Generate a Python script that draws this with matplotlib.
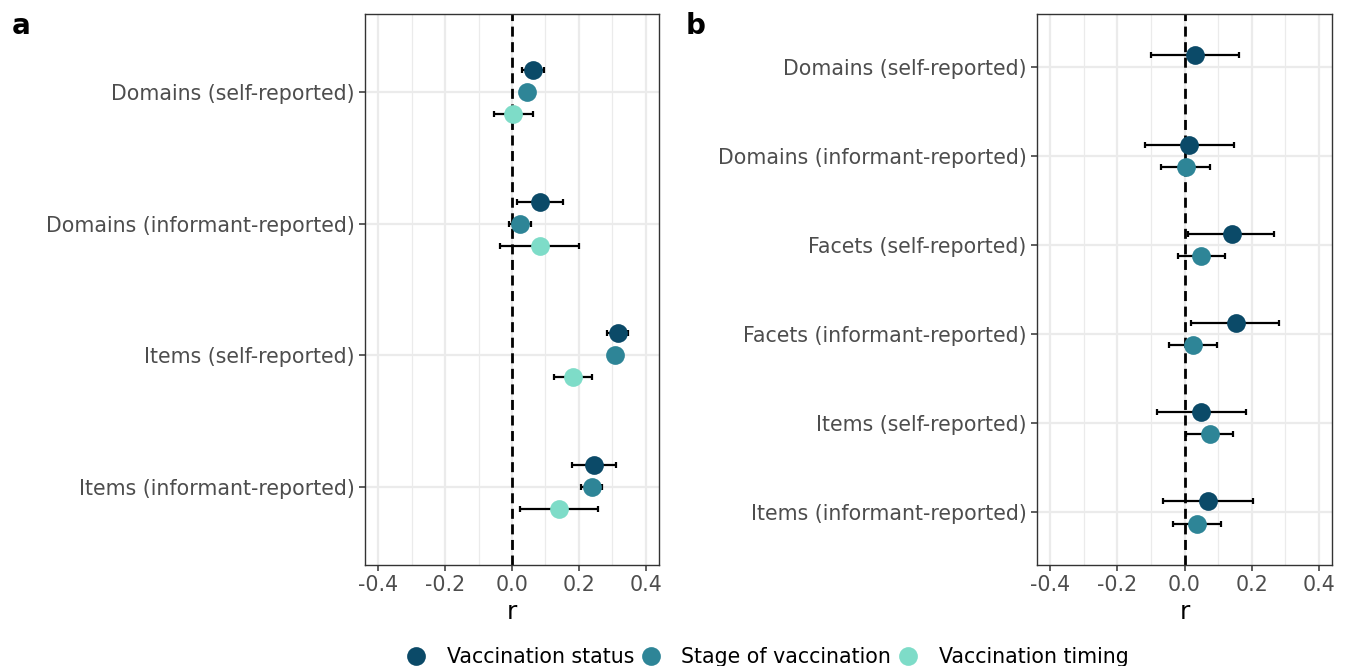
import matplotlib
matplotlib.use('agg')
import matplotlib.pyplot as plt
from matplotlib.lines import Line2D
from matplotlib.ticker import MultipleLocator
import numpy as np

series = ['Vaccination status', 'Stage of vaccination', 'Vaccination timing']
colors = ['#0b4a68', '#2e8597', '#7edcc8']

# panel a: four outcome sets, three vaccination measures
a_labels = ['Domains (self-reported)', 'Domains (informant-reported)',
            'Items (self-reported)', 'Items (informant-reported)']
a_status = [0.064, 0.085, 0.316, 0.246]
a_status_lo = [0.031, 0.015, 0.285, 0.179]
a_status_hi = [0.097, 0.154, 0.348, 0.310]
a_stage = [0.046, 0.024, 0.307, 0.238]
a_stage_lo = [0.028, -0.009, 0.290, 0.206]
a_stage_hi = [0.064, 0.058, 0.324, 0.270]
a_timing = [0.004, 0.083, 0.183, 0.140]
a_timing_lo = [-0.053, -0.037, 0.125, 0.023]
a_timing_hi = [0.063, 0.200, 0.239, 0.257]

# panel b: six outcome sets, two vaccination measures
b_labels = ['Domains (self-reported)', 'Domains (informant-reported)',
            'Facets (self-reported)', 'Facets (informant-reported)',
            'Items (self-reported)', 'Items (informant-reported)']
b_status = [0.032, 0.014, 0.141, 0.153, 0.050, 0.070]
b_status_lo = [-0.099, -0.118, 0.009, 0.020, -0.081, -0.065]
b_status_hi = [0.164, 0.148, 0.268, 0.282, 0.182, 0.204]
b_stage = [np.nan, 0.003, 0.050, 0.026, 0.075, 0.037]
b_stage_lo = [np.nan, -0.069, -0.020, -0.047, 0.003, -0.035]
b_stage_hi = [np.nan, 0.076, 0.120, 0.098, 0.144, 0.108]

xticks = [-0.4, -0.2, 0.0, 0.2, 0.4]
tick_grey = '#4d4d4d'
grid_grey = '#ebebeb'


def draw_panel(ax, labels, groups, dodge):
    n = len(labels)
    ypos = np.arange(n, 0, -1)
    ng = len(groups)
    offsets = (np.arange(ng)[::-1] - (ng - 1) / 2) * dodge
    for (est, lo, hi, col), off in zip(groups, offsets):
        est = np.asarray(est, float)
        lo = np.asarray(lo, float)
        hi = np.asarray(hi, float)
        ok = ~np.isnan(est)
        y = ypos[ok] + off
        ax.errorbar(est[ok], y, xerr=[est[ok] - lo[ok], hi[ok] - est[ok]],
                    fmt='none', ecolor='black', elinewidth=1.6,
                    capsize=2.3, capthick=1.6, zorder=3)
        ax.plot(est[ok], y, 'o', color=col, markersize=13.5,
                markeredgewidth=0, zorder=4)
    ax.axvline(0, color='black', linestyle=(0, (3.6, 2.0)), linewidth=2.0, zorder=2)
    ax.set_yticks(ypos)
    ax.set_yticklabels(labels)
    ax.set_ylim(0.41, n + 0.59)
    ax.set_xlim(-0.44, 0.44)
    ax.set_xticks(xticks)
    ax.set_xticklabels([f'{t:.1f}' for t in xticks])
    ax.xaxis.set_minor_locator(MultipleLocator(0.1))
    ax.grid(True, which='major', color=grid_grey, linewidth=1.6, zorder=0)
    ax.grid(True, which='minor', axis='x', color=grid_grey, linewidth=0.9, zorder=0)
    ax.set_axisbelow(True)
    ax.tick_params(axis='both', which='major', labelsize=14.8, labelcolor=tick_grey,
                   color='#333333', length=4, width=1.1)
    ax.tick_params(axis='x', which='minor', length=0)
    for s in ax.spines.values():
        s.set_color('#333333')
        s.set_linewidth(1.0)
    ax.set_xlabel('r', fontsize=18, labelpad=3)


fig = plt.figure(figsize=(13.48, 6.66), dpi=100)
ax_a = fig.add_axes([365 / 1348, 101 / 666, 294 / 1348, 551 / 666])
ax_b = fig.add_axes([1037 / 1348, 101 / 666, 295 / 1348, 551 / 666])

draw_panel(ax_a, a_labels,
           [(a_status, a_status_lo, a_status_hi, colors[0]),
            (a_stage, a_stage_lo, a_stage_hi, colors[1]),
            (a_timing, a_timing_lo, a_timing_hi, colors[2])],
           dodge=0.167)
draw_panel(ax_b, b_labels,
           [(b_status, b_status_lo, b_status_hi, colors[0]),
            (b_stage, b_stage_lo, b_stage_hi, colors[1])],
           dodge=0.25)

fig.text(12 / 1348, 1 - 26 / 666, 'a', fontsize=20, fontweight='bold', va='center')
fig.text(686 / 1348, 1 - 26 / 666, 'b', fontsize=20, fontweight='bold', va='center')

handles = [Line2D([], [], linestyle='none', marker='o', markersize=13.5,
                  markeredgewidth=0, color=c) for c in colors]
fig.legend(handles, series, ncol=3, loc='center', bbox_to_anchor=(766 / 1348, 9 / 666),
           frameon=False, fontsize=14.8, handletextpad=0.9, columnspacing=0.2,
           handlelength=1.2, borderpad=0)

fig.savefig('out.png', dpi=100)
